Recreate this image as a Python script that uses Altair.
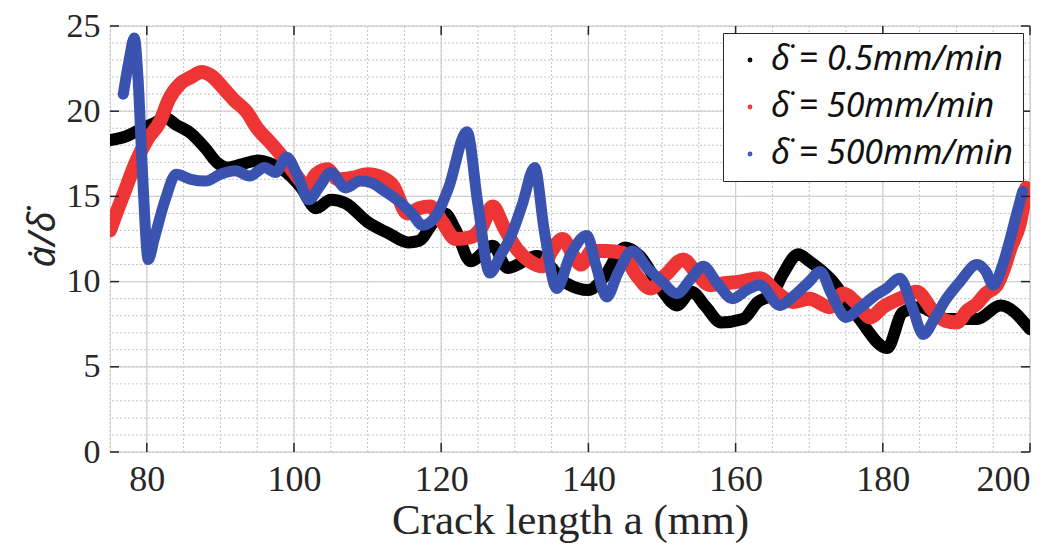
import altair as alt
import pandas as pd

SERIES = ["δ̇ = 0.5mm/min", "δ̇ = 50mm/min", "δ̇ = 500mm/min"]
COLORS = ["#000000", "#ee3535", "#3a53b0"]

black_x = [75, 77, 79, 81, 82.5, 84, 86, 88, 89.5, 91, 93, 95, 97, 99, 101, 103, 105, 107,
           110, 113, 115.5, 117, 119, 120.5, 122, 124, 127, 129, 133, 137, 140, 142, 145,
           147, 150, 152, 154, 156, 158, 161, 163, 165, 166.5, 168.5, 170, 173, 176.5,
           180.6, 182.7, 185, 188.7, 192.8, 196, 200]
black_y = [18.3, 18.5, 18.9, 19.3, 19.6, 19.2, 18.7, 17.8, 17.0, 16.7, 16.9, 17.1, 16.9, 16.4,
           15.5, 14.3, 14.8, 14.6, 13.5, 12.8, 12.3, 12.4, 13.5, 14.0, 13.0, 11.2, 12.1, 10.8,
           11.5, 9.9, 9.5, 10.2, 12.0, 11.5, 9.5, 8.6, 9.4, 8.5, 7.6, 7.8, 8.8, 9.3, 10.5,
           11.6, 11.2, 10.1, 8.0, 6.1, 8.2, 8.5, 7.8, 7.8, 8.6, 7.2]

red_x = [75, 75.5, 77, 78.5, 80, 81.8, 83, 84.5, 86, 87.5, 89, 90.5, 92, 93.5, 95, 96.7, 98.3,
         100, 101.8, 103, 104.5, 106, 108, 110, 112, 113.5, 115.4, 117, 118.5, 120, 122, 124,
         125.5, 127, 128.5, 130.3, 132, 133.8, 135, 136.5, 138, 139, 140.5, 142.5, 144.5,
         146.5, 148.4, 150.5, 152.9, 154.5, 156.5, 158.5, 160.5, 163.3, 165.5, 167.8, 170,
         172.8, 174.6, 176.5, 178.3, 180, 182.3, 184.6, 186.8, 188.5, 190, 191.5, 192.8, 194,
         195.5, 196.5, 197.3, 198.6, 199.5]
red_y = [13.0, 13.6, 15.3, 17.0, 18.3, 19.4, 20.7, 21.6, 22.0, 22.3, 22.0, 21.3, 20.6, 20.0,
         19.0, 18.2, 17.4, 16.4, 15.6, 16.3, 16.6, 16.0, 16.1, 16.3, 16.1, 15.6, 14.0, 14.3,
         14.4, 13.6, 12.5, 12.6, 13.2, 14.4, 13.2, 11.9, 11.2, 10.9, 11.8, 12.5, 11.5, 11.0,
         11.8, 11.8, 11.7, 10.4, 9.6, 10.4, 11.3, 10.6, 9.8, 9.9, 10.0, 10.2, 9.4, 8.8, 9.0,
         8.5, 9.3, 8.7, 7.9, 8.5, 9.0, 9.4, 8.3, 7.7, 7.6, 8.3, 8.7, 9.3, 9.8, 10.8, 11.9,
         13.4, 15.5]

blue_x = [76.8, 77.6, 78.3, 78.8, 79.4, 80.2, 81, 82.5, 84, 86, 88, 90, 92, 94, 96, 97.5, 99,
          100.5, 102, 103.5, 105, 107, 109, 110.5, 112, 114, 116, 117.5, 119.5, 121, 123.5,
          125, 126.6, 128, 129.5, 131, 132.7, 134, 135.7, 137.5, 139.8, 141, 142.5, 144,
          146, 148, 150, 152, 154, 155.6, 157.5, 159.6, 161.5, 163.3, 166, 168, 170, 171.5,
          173, 175, 177, 179, 180.5, 182.3, 184, 185.5, 187, 188.5, 190.5, 192.8, 194, 195,
          196.3, 197.3, 198.2, 199]
blue_y = [21.0, 23.0, 24.3, 22.0, 16.5, 11.3, 12.5, 14.8, 16.3, 16.0, 15.9, 16.3, 16.5, 16.2,
          16.7, 16.4, 17.3, 16.2, 14.8, 15.6, 16.4, 15.5, 15.9, 15.8, 15.4, 14.8, 14.0, 13.3,
          14.0, 15.5, 18.8, 14.5, 10.5, 11.5, 12.7, 14.5, 16.7, 13.0, 9.6, 11.5, 12.7, 11.0,
          9.1, 10.5, 11.8, 10.8, 10.0, 9.3, 10.2, 10.9, 9.9, 9.0, 9.5, 9.8, 8.6, 9.2, 10.0,
          10.6, 9.3, 7.9, 8.5, 9.2, 9.6, 10.2, 8.5, 6.9, 7.8, 8.9, 10.0, 11.0, 10.6, 9.8,
          11.0, 12.5, 14.0, 15.3]

x_major = [80, 100, 120, 140, 160, 180, 200]
x_minor = list(range(75, 201, 5))
y_major = [0, 5, 10, 15, 20, 25]
y_minor = list(range(0, 26, 1))

W, H = 920, 426
FONT = "Liberation Serif"
MATH = "Noto Sans"

xsc = alt.Scale(domain=[75, 200], nice=False, zero=False)
ysc = alt.Scale(domain=[0, 25], nice=False, zero=False)

x_axis = alt.Axis(values=x_major, grid=False, ticks=False, domain=False,
                  labelFont=FONT, labelFontSize=36, labelColor="#262626", labelPadding=10,
                  title="Crack length a (mm)", titleFont=FONT, titleFontSize=43,
                  titleFontWeight="normal", titleColor="#262626", titlePadding=2)
y_axis = alt.Axis(values=y_major, grid=False, ticks=False, domain=False,
                  labelFont=FONT, labelFontSize=34, labelColor="#262626", labelPadding=10,
                  title="ȧ/δ̇", titleFont=MATH, titleFontSize=38, titleFontStyle="italic",
                  titleFontWeight="normal", titleColor="#262626", titlePadding=4)


def X(field):
    return alt.X(field, scale=xsc, axis=x_axis)


def Y(field):
    return alt.Y(field, scale=ysc, axis=y_axis)


def series_df(name, xs, ys):
    return pd.DataFrame({"a": xs, "r": ys, "s": name})


color_legend = alt.Legend(
    title=None, orient="top-right", offset=7, fillColor="white",
    strokeColor="#262626", padding=10, rowPadding=13,
    symbolType="circle", symbolSize=8, symbolStrokeWidth=2,
    labelFont=MATH, labelFontSize=34, labelFontStyle="italic",
    labelColor="#111111", labelLimit=500,
)
color = alt.Color("s:N", scale=alt.Scale(domain=SERIES, range=COLORS), sort=SERIES,
                  legend=color_legend)

vminor = alt.Chart(pd.DataFrame({"v": x_minor})).mark_rule(
    color="#c4c4c4", strokeDash=[2, 2], strokeWidth=1).encode(x=X("v:Q"))
hminor = alt.Chart(pd.DataFrame({"v": y_minor})).mark_rule(
    color="#c4c4c4", strokeDash=[2, 2], strokeWidth=1).encode(y=Y("v:Q"))
vmajor = alt.Chart(pd.DataFrame({"v": x_major})).mark_rule(
    color="#d0d0d0", strokeWidth=1.2).encode(x=X("v:Q"))
hmajor = alt.Chart(pd.DataFrame({"v": y_major})).mark_rule(
    color="#d0d0d0", strokeWidth=1.2).encode(y=Y("v:Q"))


def line_layer(name, xs, ys, width):
    return alt.Chart(series_df(name, xs, ys)).mark_line(
        strokeWidth=width, strokeJoin="round", strokeCap="round", clip=True,
        interpolate="monotone").encode(
        x=X("a:Q"), y=Y("r:Q"), color=color, order=alt.Order("a:Q"))


black = line_layer(SERIES[0], black_x, black_y, 12)
red = line_layer(SERIES[1], red_x, red_y, 14)
blue = line_layer(SERIES[2], blue_x, blue_y, 11)

tick_col = "#262626"
xt_df = pd.DataFrame({"v": x_major})
yt_df = pd.DataFrame({"v": y_major})
xt_bottom = alt.Chart(xt_df).mark_rule(color=tick_col, strokeWidth=1.5).encode(
    x=X("v:Q"), y=alt.value(H), y2=alt.value(H - 9))
xt_top = alt.Chart(xt_df).mark_rule(color=tick_col, strokeWidth=1.5).encode(
    x=X("v:Q"), y=alt.value(0), y2=alt.value(9))
yt_left = alt.Chart(yt_df).mark_rule(color=tick_col, strokeWidth=1.5).encode(
    y=Y("v:Q"), x=alt.value(0), x2=alt.value(9))
yt_right = alt.Chart(yt_df).mark_rule(color=tick_col, strokeWidth=1.5).encode(
    y=Y("v:Q"), x=alt.value(W), x2=alt.value(W - 9))

chart = alt.layer(
    vminor, hminor, vmajor, hmajor, black, red, blue,
    xt_bottom, xt_top, yt_left, yt_right,
).properties(
    width=W, height=H,
    autosize=alt.AutoSizeParams(type="none"),
    padding={"left": 102, "top": 18, "right": 24, "bottom": 94},
).configure_view(
    stroke="#262626", strokeWidth=2
).configure(background="white")

chart.save("out.html", embed_options={"renderer": "svg", "actions": False})
